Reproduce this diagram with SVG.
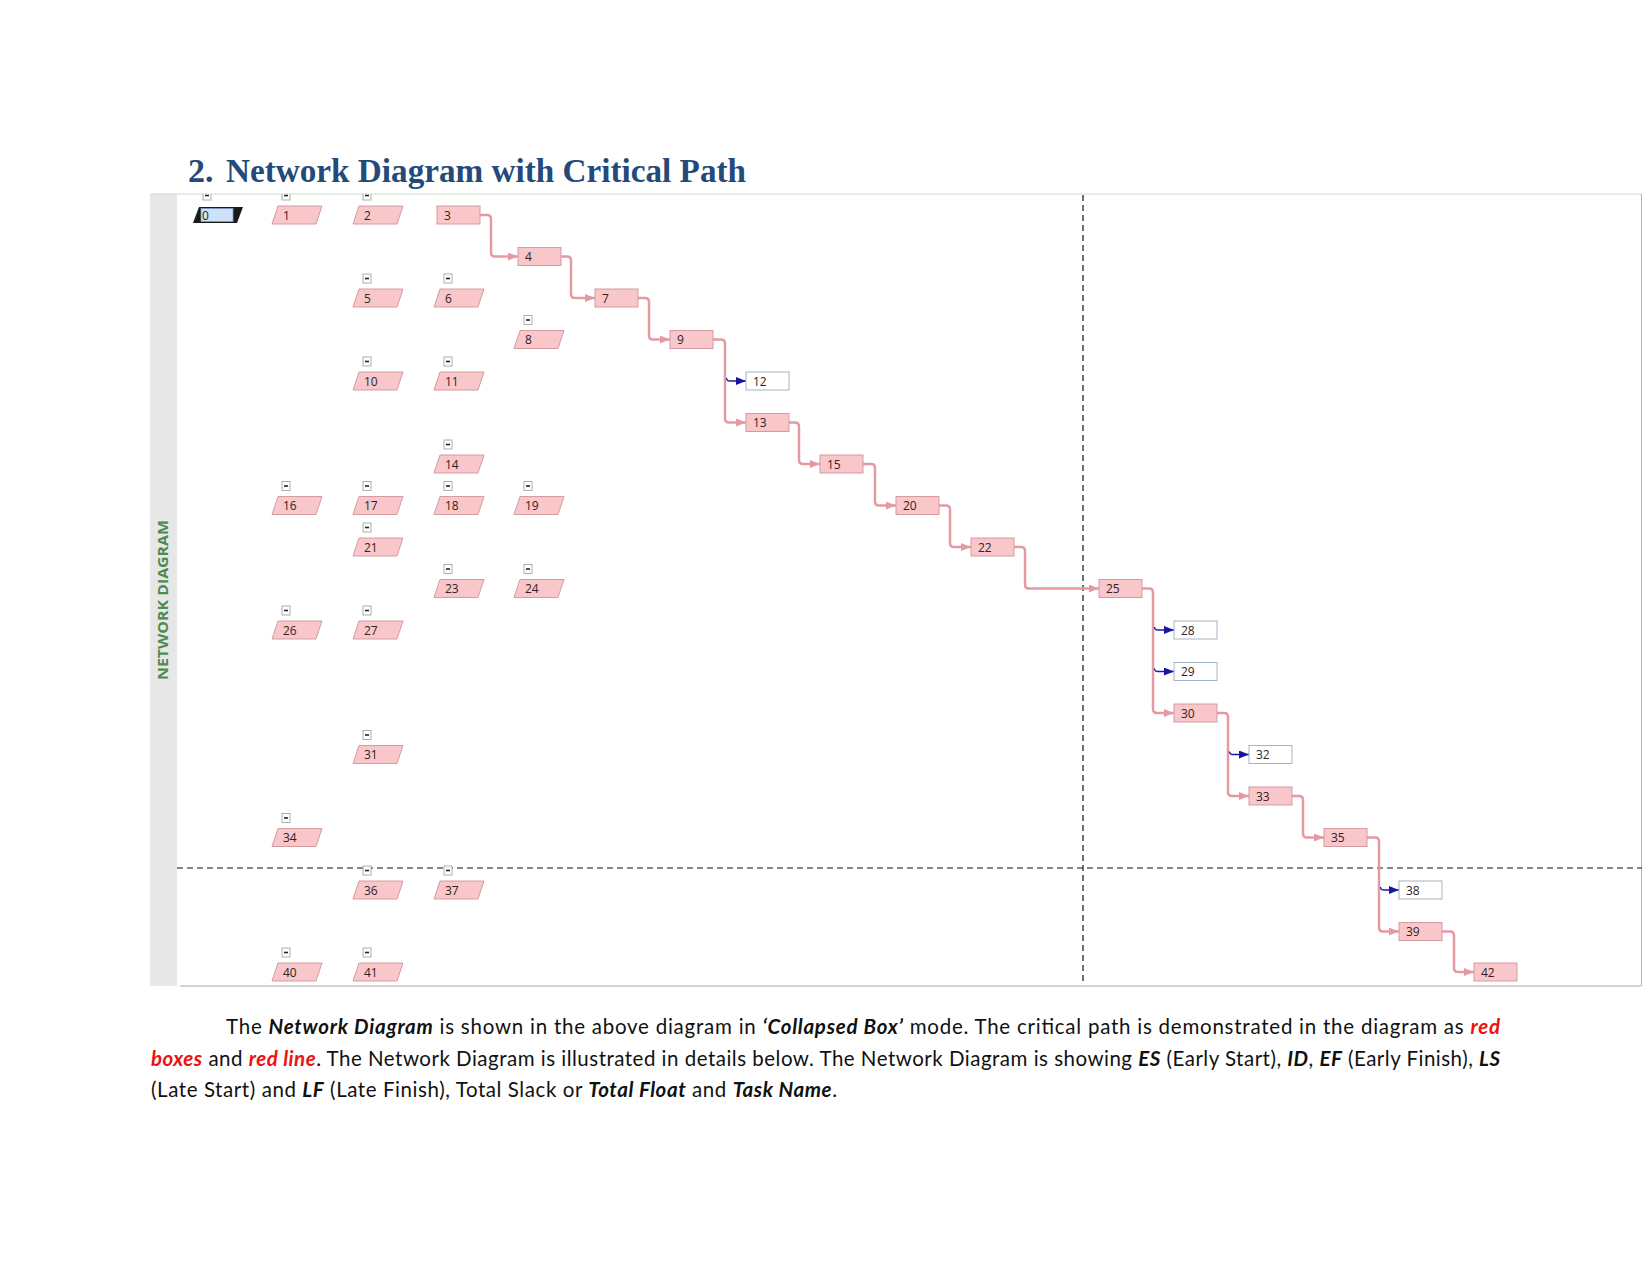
<svg xmlns="http://www.w3.org/2000/svg" xmlns:xlink="http://www.w3.org/1999/xlink" width="1650" height="1275" viewBox="0 0 1650 1275">
<style>
.p{fill:#f9c6ca;stroke:#d49ca1;stroke-width:1}
.w{fill:#ffffff;stroke:#a3b5c4;stroke-width:1}
.t{font-family:"Open Sans","Noto Sans","DejaVu Sans",sans-serif;font-size:12px;fill:#332222}
.c{fill:none;stroke:#e59aa3;stroke-width:2.5}
.b{fill:none;stroke:#1a1aa0;stroke-width:1.3}
.cb rect{fill:#fff;stroke:#9a9a9a;stroke-width:0.8}
.cb line{stroke:#222;stroke-width:1.6}
.dash{fill:none;stroke:#111;stroke-width:1.2;stroke-dasharray:6 4}
.para{font-family:Lato,"Liberation Sans",sans-serif;font-size:20.5px;fill:#111}
.bi{font-weight:bold;font-style:italic}
.r{fill:#ee1111}
</style>
<defs>
<path id="pg" d="M6,-9 H50 L44,9 H0 Z"/>
<g id="cbx" class="cb"><rect x="10" y="-24" width="8" height="9"/><line x1="12" y1="-19.5" x2="16" y2="-19.5"/></g>
<marker id="ap" viewBox="0 0 10 8" refX="10" refY="4" markerWidth="10" markerHeight="8" markerUnits="userSpaceOnUse" orient="auto"><path d="M0,0 L10,4 L0,8 Z" fill="#e59aa3"/></marker>
<marker id="ab" viewBox="0 0 10 8" refX="10" refY="4" markerWidth="10" markerHeight="8" markerUnits="userSpaceOnUse" orient="auto"><path d="M0,0 L10,4 L0,8 Z" fill="#1616a0"/></marker>
<clipPath id="top"><rect x="0" y="194" width="1650" height="1000"/></clipPath>
</defs>
<rect width="1650" height="1275" fill="#fff"/>

<g id="title">
<text x="188" y="182" font-family="Liberation Serif,serif" font-weight="bold" font-size="34" fill="#234a7b">2.</text>
<text x="226" y="182" font-family="Liberation Serif,serif" font-weight="bold" font-size="34" fill="#234a7b" textLength="520" lengthAdjust="spacingAndGlyphs">Network Diagram with Critical Path</text>
</g>

<g id="frame">
<rect x="150" y="194" width="27" height="792" fill="#e7e7e7"/>
<line x1="150" y1="194" x2="1642" y2="194" stroke="#c9dfc9" stroke-width="1.2"/>
<line x1="1641.5" y1="194" x2="1641.5" y2="986" stroke="#b5b5b5" stroke-width="1"/>
<line x1="180" y1="986" x2="1641" y2="986" stroke="#a5a5a5" stroke-width="1.2"/>
<text transform="translate(168,600) rotate(-90)" text-anchor="middle" font-family="Open Sans,DejaVu Sans,sans-serif" font-weight="bold" font-size="13.5" fill="#4f8a50" textLength="160" lengthAdjust="spacingAndGlyphs">NETWORK DIAGRAM</text>
<line class="dash" x1="1083" y1="195" x2="1083" y2="984"/>
<line class="dash" x1="177" y1="868" x2="1642" y2="868"/>
</g>

<g id="connectors">
<path class="c" marker-end="url(#ap)" d="M480,215 H487 Q491,215 491,219 V252.5 Q491,256.5 495,256.5 H518"/>
<path class="c" marker-end="url(#ap)" d="M561,256.5 H567 Q571,256.5 571,260.5 V294 Q571,298 575,298 H595"/>
<path class="c" marker-end="url(#ap)" d="M638,298 H645 Q649,298 649,302 V335.5 Q649,339.5 653,339.5 H670"/>
<path class="c" marker-end="url(#ap)" d="M713,339.5 H721 Q725,339.5 725,343.5 V418.5 Q725,422.5 729,422.5 H746"/>
<path class="b" marker-end="url(#ab)" d="M726.5,378 Q726.5,381 730,381 H746"/>
<path class="c" marker-end="url(#ap)" d="M789,422.5 H795 Q799,422.5 799,426.5 V460 Q799,464 803,464 H820"/>
<path class="c" marker-end="url(#ap)" d="M863,464 H871 Q875,464 875,468 V501.5 Q875,505.5 879,505.5 H896"/>
<path class="c" marker-end="url(#ap)" d="M939,505.5 H946 Q950,505.5 950,509.5 V543 Q950,547 954,547 H971"/>
<path class="c" marker-end="url(#ap)" d="M1014,547 H1021 Q1025,547 1025,551 V584.5 Q1025,588.5 1029,588.5 H1099"/>
<path class="c" marker-end="url(#ap)" d="M1142,588.5 H1149 Q1153,588.5 1153,592.5 V709 Q1153,713 1157,713 H1174"/>
<path class="b" marker-end="url(#ab)" d="M1154.5,627 Q1154.5,630 1158,630 H1174"/>
<path class="b" marker-end="url(#ab)" d="M1154.5,668.5 Q1154.5,671.5 1158,671.5 H1174"/>
<path class="c" marker-end="url(#ap)" d="M1217,713 H1224 Q1228,713 1228,717 V792 Q1228,796 1232,796 H1249"/>
<path class="b" marker-end="url(#ab)" d="M1229.5,751.5 Q1229.5,754.5 1233,754.5 H1249"/>
<path class="c" marker-end="url(#ap)" d="M1292,796 H1299 Q1303,796 1303,800 V833.5 Q1303,837.5 1307,837.5 H1324"/>
<path class="c" marker-end="url(#ap)" d="M1367,837.5 H1375 Q1379,837.5 1379,841.5 V927.5 Q1379,931.5 1383,931.5 H1399"/>
<path class="b" marker-end="url(#ab)" d="M1380.5,887 Q1380.5,890 1384,890 H1399"/>
<path class="c" marker-end="url(#ap)" d="M1442,931.5 H1450 Q1454,931.5 1454,935.5 V968 Q1454,972 1458,972 H1474"/>
</g>

<g id="n0"><g clip-path="url(#top)"><use href="#cbx" x="193" y="215"/></g><path d="M199,207 H243 L237,223 H193 Z" fill="#1a1a1a"/><rect x="201" y="208.5" width="32" height="13" fill="#cfe1f8" stroke="#7d9cc4" stroke-width="0.8"/><text class="t" x="202" y="219.5">0</text></g>
<g id="n1"><g clip-path="url(#top)"><use href="#cbx" x="272" y="215"/></g><use href="#pg" class="p" x="272" y="215"/><text class="t" x="283" y="219.5">1</text></g>
<g id="n2"><g clip-path="url(#top)"><use href="#cbx" x="353" y="215"/></g><use href="#pg" class="p" x="353" y="215"/><text class="t" x="364" y="219.5">2</text></g>
<g id="n5"><use href="#cbx" x="353" y="298"/><use href="#pg" class="p" x="353" y="298"/><text class="t" x="364" y="302.5">5</text></g>
<g id="n6"><use href="#cbx" x="434" y="298"/><use href="#pg" class="p" x="434" y="298"/><text class="t" x="445" y="302.5">6</text></g>
<g id="n8"><use href="#cbx" x="514" y="339.5"/><use href="#pg" class="p" x="514" y="339.5"/><text class="t" x="525" y="344">8</text></g>
<g id="n10"><use href="#cbx" x="353" y="381"/><use href="#pg" class="p" x="353" y="381"/><text class="t" x="364" y="385.5">10</text></g>
<g id="n11"><use href="#cbx" x="434" y="381"/><use href="#pg" class="p" x="434" y="381"/><text class="t" x="445" y="385.5">11</text></g>
<g id="n14"><use href="#cbx" x="434" y="464"/><use href="#pg" class="p" x="434" y="464"/><text class="t" x="445" y="468.5">14</text></g>
<g id="n16"><use href="#cbx" x="272" y="505.5"/><use href="#pg" class="p" x="272" y="505.5"/><text class="t" x="283" y="510">16</text></g>
<g id="n17"><use href="#cbx" x="353" y="505.5"/><use href="#pg" class="p" x="353" y="505.5"/><text class="t" x="364" y="510">17</text></g>
<g id="n18"><use href="#cbx" x="434" y="505.5"/><use href="#pg" class="p" x="434" y="505.5"/><text class="t" x="445" y="510">18</text></g>
<g id="n19"><use href="#cbx" x="514" y="505.5"/><use href="#pg" class="p" x="514" y="505.5"/><text class="t" x="525" y="510">19</text></g>
<g id="n21"><use href="#cbx" x="353" y="547"/><use href="#pg" class="p" x="353" y="547"/><text class="t" x="364" y="551.5">21</text></g>
<g id="n23"><use href="#cbx" x="434" y="588.5"/><use href="#pg" class="p" x="434" y="588.5"/><text class="t" x="445" y="593">23</text></g>
<g id="n24"><use href="#cbx" x="514" y="588.5"/><use href="#pg" class="p" x="514" y="588.5"/><text class="t" x="525" y="593">24</text></g>
<g id="n26"><use href="#cbx" x="272" y="630"/><use href="#pg" class="p" x="272" y="630"/><text class="t" x="283" y="634.5">26</text></g>
<g id="n27"><use href="#cbx" x="353" y="630"/><use href="#pg" class="p" x="353" y="630"/><text class="t" x="364" y="634.5">27</text></g>
<g id="n31"><use href="#cbx" x="353" y="754.5"/><use href="#pg" class="p" x="353" y="754.5"/><text class="t" x="364" y="759">31</text></g>
<g id="n34"><use href="#cbx" x="272" y="837.5"/><use href="#pg" class="p" x="272" y="837.5"/><text class="t" x="283" y="842">34</text></g>
<g id="n36"><use href="#cbx" x="353" y="890"/><use href="#pg" class="p" x="353" y="890"/><text class="t" x="364" y="894.5">36</text></g>
<g id="n37"><use href="#cbx" x="434" y="890"/><use href="#pg" class="p" x="434" y="890"/><text class="t" x="445" y="894.5">37</text></g>
<g id="n40"><use href="#cbx" x="272" y="972"/><use href="#pg" class="p" x="272" y="972"/><text class="t" x="283" y="976.5">40</text></g>
<g id="n41"><use href="#cbx" x="353" y="972"/><use href="#pg" class="p" x="353" y="972"/><text class="t" x="364" y="976.5">41</text></g>

<g id="n3"><rect class="p" x="437" y="206" width="43" height="18"/><text class="t" x="444" y="219.5">3</text></g>
<g id="n4"><rect class="p" x="518" y="247.5" width="43" height="18"/><text class="t" x="525" y="261">4</text></g>
<g id="n7"><rect class="p" x="595" y="289" width="43" height="18"/><text class="t" x="602" y="302.5">7</text></g>
<g id="n9"><rect class="p" x="670" y="330.5" width="43" height="18"/><text class="t" x="677" y="344">9</text></g>
<g id="n12"><rect class="w" x="746" y="372" width="43" height="18"/><text class="t" x="753" y="385.5">12</text></g>
<g id="n13"><rect class="p" x="746" y="413.5" width="43" height="18"/><text class="t" x="753" y="427">13</text></g>
<g id="n15"><rect class="p" x="820" y="455" width="43" height="18"/><text class="t" x="827" y="468.5">15</text></g>
<g id="n20"><rect class="p" x="896" y="496.5" width="43" height="18"/><text class="t" x="903" y="510">20</text></g>
<g id="n22"><rect class="p" x="971" y="538" width="43" height="18"/><text class="t" x="978" y="551.5">22</text></g>
<g id="n25"><rect class="p" x="1099" y="579.5" width="43" height="18"/><text class="t" x="1106" y="593">25</text></g>
<g id="n28"><rect class="w" x="1174" y="621" width="43" height="18"/><text class="t" x="1181" y="634.5">28</text></g>
<g id="n29"><rect class="w" x="1174" y="662.5" width="43" height="18"/><text class="t" x="1181" y="676">29</text></g>
<g id="n30"><rect class="p" x="1174" y="704" width="43" height="18"/><text class="t" x="1181" y="717.5">30</text></g>
<g id="n32"><rect class="w" x="1249" y="745.5" width="43" height="18"/><text class="t" x="1256" y="759">32</text></g>
<g id="n33"><rect class="p" x="1249" y="787" width="43" height="18"/><text class="t" x="1256" y="800.5">33</text></g>
<g id="n35"><rect class="p" x="1324" y="828.5" width="43" height="18"/><text class="t" x="1331" y="842">35</text></g>
<g id="n38"><rect class="w" x="1399" y="881" width="43" height="18"/><text class="t" x="1406" y="894.5">38</text></g>
<g id="n39"><rect class="p" x="1399" y="922.5" width="43" height="18"/><text class="t" x="1406" y="936">39</text></g>
<g id="n42"><rect class="p" x="1474" y="963" width="43" height="18"/><text class="t" x="1481" y="976.5">42</text></g>

<g id="paragraph">
<text class="para" x="226" y="1034" textLength="1274" lengthAdjust="spacing">The <tspan class="bi">Network Diagram</tspan> is shown in the above diagram in <tspan class="bi">‘Collapsed Box’</tspan> mode. The critical path is demonstrated in the diagram as <tspan class="bi r">red</tspan></text>
<text class="para" x="151" y="1066" textLength="1349" lengthAdjust="spacing"><tspan class="bi r">boxes</tspan> and <tspan class="bi r">red line</tspan>. The Network Diagram is illustrated in details below. The Network Diagram is showing <tspan class="bi">ES</tspan> (Early Start), <tspan class="bi">ID</tspan>, <tspan class="bi">EF</tspan> (Early Finish), <tspan class="bi">LS</tspan></text>
<text class="para" x="151" y="1097" textLength="686" lengthAdjust="spacing">(Late Start) and <tspan class="bi">LF</tspan> (Late Finish), Total Slack or <tspan class="bi">Total Float</tspan> and <tspan class="bi">Task Name</tspan>.</text>
</g>
</svg>
